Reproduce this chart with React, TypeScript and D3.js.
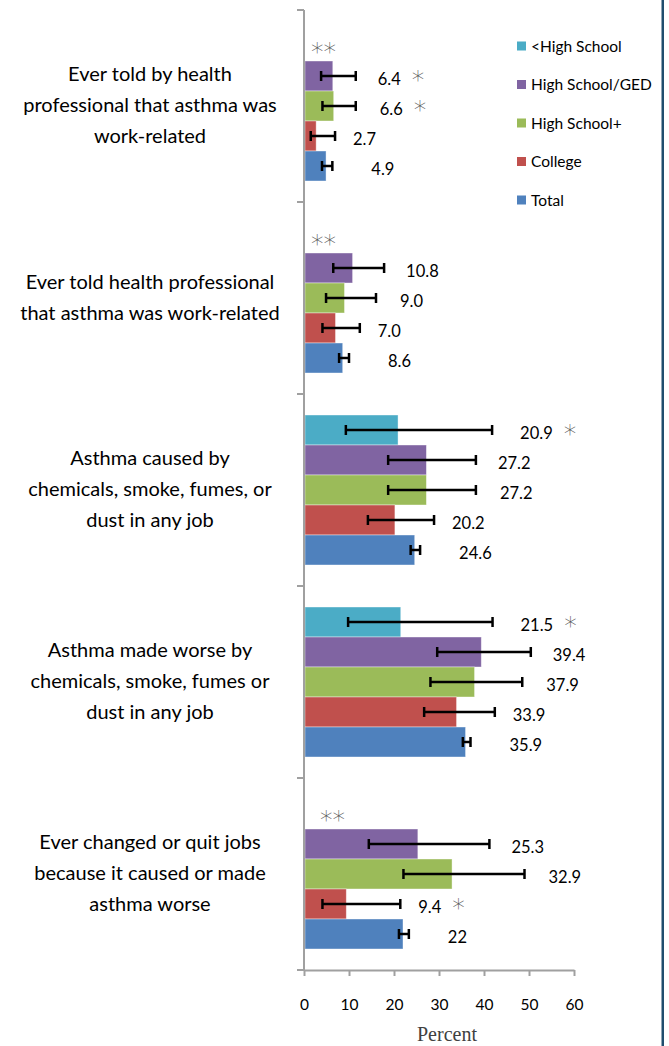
import React, { useEffect, useRef } from "react";
import * as d3 from "d3";

// question text, one entry per line
const categories = [
  ["Ever told by health", "professional that asthma was", "work-related"],
  ["Ever told health professional", "that asthma was work-related"],
  ["Asthma caused by", "chemicals, smoke, fumes, or", "dust in any job"],
  ["Asthma made worse by", "chemicals, smoke, fumes or", "dust in any job"],
  ["Ever changed or quit jobs", "because it caused or made", "asthma worse"],
];

const series = ["<High School", "High School/GED", "High School+", "College", "Total"];
const colors = ["#4BACC6", "#8064A2", "#9BBB59", "#C0504D", "#4F81BD"];

const lessHS = [null, null, 20.9, 21.5, null];
const hsGed = [6.4, 10.8, 27.2, 39.4, 25.3];
const hsPlus = [6.6, 9.0, 27.2, 37.9, 32.9];
const college = [2.7, 7.0, 20.2, 33.9, 9.4];
const total = [4.9, 8.6, 24.6, 35.9, 22];

const lessHSLabels = ["", "", "20.9", "21.5", ""];
const hsGedLabels = ["6.4", "10.8", "27.2", "39.4", "25.3"];
const hsPlusLabels = ["6.6", "9.0", "27.2", "37.9", "32.9"];
const collegeLabels = ["2.7", "7.0", "20.2", "33.9", "9.4"];
const totalLabels = ["4.9", "8.6", "24.6", "35.9", "22"];

// 95% confidence limits
const lessHSLow = [null, null, 9.3, 9.8, null];
const lessHSHigh = [null, null, 41.8, 41.9, null];
const hsGedLow = [3.8, 6.5, 18.7, 29.6, 14.4];
const hsGedHigh = [11.5, 17.8, 38.2, 50.4, 41.2];
const hsPlusLow = [4.1, 4.9, 18.7, 28.1, 22.1];
const hsPlusHigh = [11.5, 16.0, 38.2, 48.5, 49.0];
const collegeLow = [1.5, 4.1, 14.2, 26.7, 4.1];
const collegeHigh = [6.9, 12.4, 28.9, 42.4, 21.4];
const totalLow = [4.0, 7.8, 23.7, 35.3, 21.1];
const totalHigh = [6.3, 10.0, 25.8, 37.0, 23.3];

// single star after the label (unstable estimate), double star per question
const lessHSStar = [false, false, true, true, false];
const hsGedStar = [true, false, false, false, false];
const hsPlusStar = [true, false, false, false, false];
const collegeStar = [false, false, false, false, true];
const totalStar = [false, false, false, false, false];
const doubleStar = [true, true, false, false, true];

const xTicks = [0, 10, 20, 30, 40, 50, 60];

const values = [lessHS, hsGed, hsPlus, college, total];
const labels = [lessHSLabels, hsGedLabels, hsPlusLabels, collegeLabels, totalLabels];
const lows = [lessHSLow, hsGedLow, hsPlusLow, collegeLow, totalLow];
const highs = [lessHSHigh, hsGedHigh, hsPlusHigh, collegeHigh, totalHigh];
const stars = [lessHSStar, hsGedStar, hsPlusStar, collegeStar, totalStar];

// gap between end of error bar and value label, per series
const labelGap = [28, 22, 24, 18, 39];

const W = 669;
const H = 1046;
const FONT = "Lato, 'Open Sans', sans-serif";
const STAR_FONT = "'DejaVu Sans', sans-serif";

export default function App() {
  const ref = useRef<SVGSVGElement>(null);

  useEffect(() => {
    const svg = d3.select(ref.current);
    svg.selectAll("*").remove();

    svg.append("rect").attr("width", W).attr("height", H).attr("fill", "white");

    const x = d3.scaleLinear().domain([0, 60]).range([304, 574]);
    const yCat = d3
      .scaleBand<number>()
      .domain(categories.map((_, i) => i))
      .range([10, 970]);
    const ySer = d3
      .scaleBand<number>()
      .domain(series.map((_, i) => i))
      .range([0, yCat.bandwidth()])
      .paddingOuter(0.7);

    // bars
    const g = svg.append("g");
    categories.forEach((_, ci) => {
      series.forEach((_, si) => {
        const v = values[si][ci];
        if (v == null) return;
        const y0 = yCat(ci)! + ySer(si)!;
        const bh = ySer.bandwidth();
        const cy = y0 + bh / 2;
        g.append("rect")
          .attr("x", x(0) + 1)
          .attr("y", y0)
          .attr("width", x(v) - x(0) - 1)
          .attr("height", bh)
          .attr("fill", colors[si])
          .attr("stroke", "white")
          .attr("stroke-opacity", 0.5)
          .attr("stroke-width", 0.8);

        const lo = lows[si][ci]!;
        const hi = highs[si][ci]!;
        g.append("line")
          .attr("x1", x(lo)).attr("x2", x(hi))
          .attr("y1", cy).attr("y2", cy)
          .attr("stroke", "black").attr("stroke-width", 2.5);
        [lo, hi].forEach((e) => {
          g.append("line")
            .attr("x1", x(e)).attr("x2", x(e))
            .attr("y1", cy - 5).attr("y2", cy + 5)
            .attr("stroke", "black").attr("stroke-width", 2.5);
        });

        const t = g.append("text")
          .attr("x", x(hi) + labelGap[si])
          .attr("y", cy + 9)
          .attr("font-family", FONT)
          .attr("font-size", 16.5)
          .attr("fill", "black")
          .text(labels[si][ci]);
        if (stars[si][ci]) {
          t.append("tspan")
            .attr("dx", 11)
            .attr("dy", 3)
            .attr("font-family", STAR_FONT)
            .attr("font-weight", 200)
            .attr("font-size", 25)
            .attr("fill", "#555")
            .text("*");
        }
      });

      if (doubleStar[ci]) {
        const cy = yCat(ci)! + ySer(0)! + ySer.bandwidth() / 2;
        g.append("text")
          .attr("x", x(0) + 7 + (ci === 4 ? 9 : 0))
          .attr("y", cy + 14)
          .attr("font-family", STAR_FONT)
          .attr("font-weight", 200)
          .attr("font-size", 25)
          .attr("fill", "#555")
          .text("**");
      }

      // question label
      const lines = categories[ci];
      const mid = yCat(ci)! + yCat.bandwidth() / 2 - 1;
      const lh = 31;
      const txt = svg.append("text")
        .attr("text-anchor", "middle")
        .attr("font-family", FONT)
        .attr("font-size", 20)
        .attr("fill", "black");
      lines.forEach((l, li) => {
        txt.append("tspan")
          .attr("x", 150)
          .attr("y", mid + (li - (lines.length - 1) / 2) * lh + 7)
          .text(l);
      });
    });

    // left axis with ticks at category boundaries
    const axisColor = "#a0a0a0";
    const bounds = categories.map((_, i) => yCat(i)!).concat([yCat.range()[1]]);
    svg.append("line")
      .attr("x1", x(0)).attr("x2", x(0))
      .attr("y1", 10).attr("y2", 970)
      .attr("stroke", axisColor).attr("stroke-width", 2);
    svg.selectAll(".ltick")
      .data(bounds)
      .enter()
      .append("line")
      .attr("x1", x(0) - 7).attr("x2", x(0))
      .attr("y1", (d) => d).attr("y2", (d) => d)
      .attr("stroke", axisColor).attr("stroke-width", 2);

    // bottom axis
    const ax = svg.append("g")
      .attr("transform", "translate(0,970)")
      .call(d3.axisBottom(x).tickValues(xTicks).tickSize(6).tickSizeOuter(0));
    ax.select(".domain").attr("stroke", axisColor).attr("stroke-width", 2);
    ax.selectAll(".tick line").attr("stroke", axisColor).attr("stroke-width", 2);
    ax.selectAll(".tick text")
      .attr("font-family", FONT)
      .attr("font-size", 15.5)
      .attr("fill", "black")
      .attr("y", 29);

    svg.append("text")
      .attr("x", 447).attr("y", 1041)
      .attr("text-anchor", "middle")
      .attr("font-family", "'Liberation Serif', serif")
      .attr("font-size", 20)
      .attr("fill", "#404040")
      .text("Percent");

    // legend
    series.forEach((s, i) => {
      const ly = 46 + i * 38.5;
      svg.append("rect")
        .attr("x", 517).attr("y", ly - 4.5)
        .attr("width", 9).attr("height", 9)
        .attr("fill", colors[i]);
      svg.append("text")
        .attr("x", 531).attr("y", ly + 5.5)
        .attr("font-family", FONT)
        .attr("font-size", 15.5)
        .attr("fill", "black")
        .text(s);
    });

    // frame line on right
    svg.append("rect")
      .attr("x", 661.5).attr("y", 0)
      .attr("width", 2.5).attr("height", H)
      .attr("fill", "#1F4E6E");
  }, []);

  return (
    <svg
      ref={ref}
      width={W}
      height={H}
      style={{ position: "absolute", left: 0, top: 0, display: "block" }}
    />
  );
}
